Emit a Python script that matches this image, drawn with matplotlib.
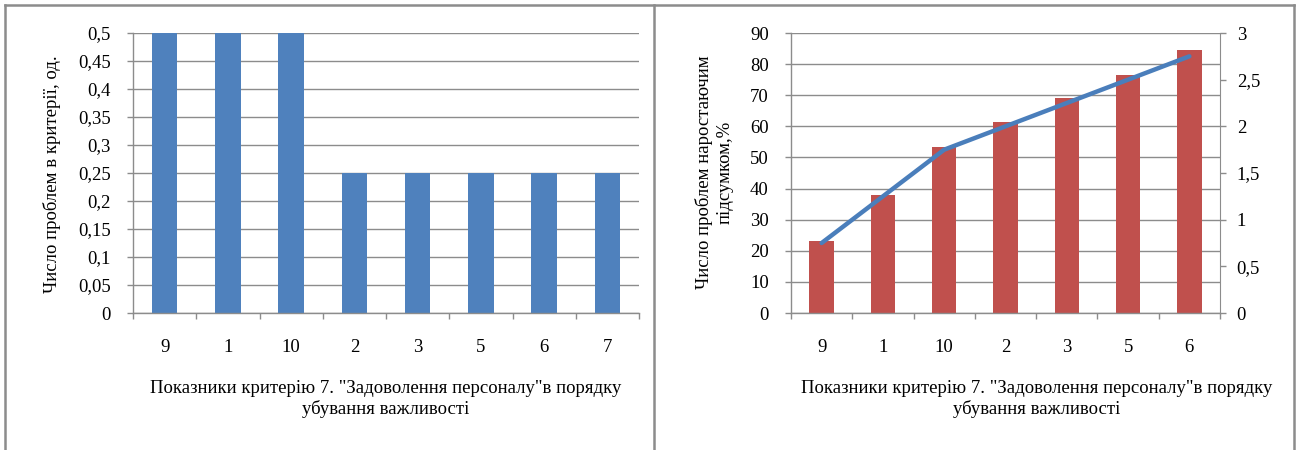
import numpy as np
import matplotlib.pyplot as plt
from matplotlib.lines import Line2D
from matplotlib.ticker import FuncFormatter, FixedLocator

plt.rcParams['font.family'] = ['Liberation Serif', 'DejaVu Serif']

# ліва діаграма: число проблем за показниками
cats_left = ['9', '1', '10', '2', '3', '5', '6', '7']
vals_left = [0.5, 0.5, 0.5, 0.25, 0.25, 0.25, 0.25, 0.25]

# права діаграма: наростаючий підсумок
cats_right = ['9', '1', '10', '2', '3', '5', '6']
vals_right = [23, 38, 53.5, 61.3, 69, 76.5, 84.5]
cum_right = [0.75, 1.25, 1.75, 2.0, 2.25, 2.5, 2.75]

xlabel_text = 'Показники критерію 7. "Задоволення персоналу"в порядку\nубування важливості'

W, H = 1302, 450
grid_c = '#8c8c8c'
fs = 13.5

fig = plt.figure(figsize=(W / 100, H / 100), dpi=100)


def px_box(x0, y0, x1, y1):
    return [x0 / W, 1 - y1 / H, (x1 - x0) / W, (y1 - y0) / H]


def comma(v, pos):
    return f'{v:g}'.replace('.', ',')


def style_axis(ax, n):
    ax.set_xlim(-0.5, n - 0.5)
    ax.set_xticks(np.arange(n))
    ax.xaxis.set_minor_locator(FixedLocator(np.arange(n + 1) - 0.5))
    ax.tick_params(axis='x', which='major', length=0, pad=19, labelsize=fs)
    ax.tick_params(axis='x', which='minor', length=4, width=1, color=grid_c, direction='out')
    ax.tick_params(axis='y', length=4, width=1, color=grid_c, labelsize=fs, pad=12)
    ax.yaxis.set_major_formatter(FuncFormatter(comma))
    ax.grid(axis='y', color=grid_c, linewidth=1)
    ax.set_axisbelow(True)
    for s in ['top', 'right']:
        ax.spines[s].set_visible(False)
    for s in ['left', 'bottom']:
        ax.spines[s].set_color(grid_c)
        ax.spines[s].set_linewidth(1)


# ліва панель
ax1 = fig.add_axes(px_box(133, 33, 639, 313))
ax1.bar(np.arange(len(cats_left)), vals_left, width=0.4, color='#4f81bd')
ax1.set_ylim(0, 0.5)
ax1.set_yticks(np.arange(0, 0.501, 0.05))
style_axis(ax1, len(cats_left))
ax1.set_xticklabels(cats_left)
fig.text(52 / W, 1 - 174 / H, 'Число проблем в критерії, од.', rotation=90,
         ha='center', va='center', fontsize=fs)
fig.text(386 / W, 1 - 380 / H, xlabel_text, ha='center', va='top',
         fontsize=fs, linespacing=1.2)

# права панель
ax2 = fig.add_axes(px_box(791, 33, 1220, 313))
ax2.bar(np.arange(len(cats_right)), vals_right, width=0.4, color='#c0504d')
ax2.set_ylim(0, 90)
ax2.set_yticks(np.arange(0, 91, 10))
style_axis(ax2, len(cats_right))
ax2.set_xticklabels(cats_right)

ax3 = ax2.twinx()
ax3.plot(np.arange(len(cats_right)), cum_right, color='#4a7ebb', linewidth=3.2,
         solid_capstyle='round')
ax3.set_ylim(0, 3)
ax3.set_yticks(np.arange(0, 3.01, 0.5))
ax3.yaxis.set_major_formatter(FuncFormatter(comma))
ax3.tick_params(axis='y', length=4, width=1, color=grid_c, labelsize=fs, pad=8)
for s in ['top', 'left', 'bottom']:
    ax3.spines[s].set_visible(False)
ax3.spines['right'].set_color(grid_c)

fig.text(714 / W, 1 - 172 / H, 'Число проблем наростаючим\nпідсумком,%', rotation=90,
         ha='center', va='center', fontsize=fs, linespacing=1.3)
fig.text(1037 / W, 1 - 380 / H, xlabel_text, ha='center', va='top',
         fontsize=fs, linespacing=1.2)

# рамки панелей
bc = '#8c8c8c'
for xs, ys in [([5, 1294], [5, 5]), ([5, 5], [5, 450]), ([654, 654], [5, 450]),
               ([1294, 1294], [5, 450])]:
    fig.add_artist(Line2D([x / W for x in xs], [1 - y / H for y in ys],
                          color=bc, linewidth=1.8))

fig.savefig('out.png', dpi=100)
